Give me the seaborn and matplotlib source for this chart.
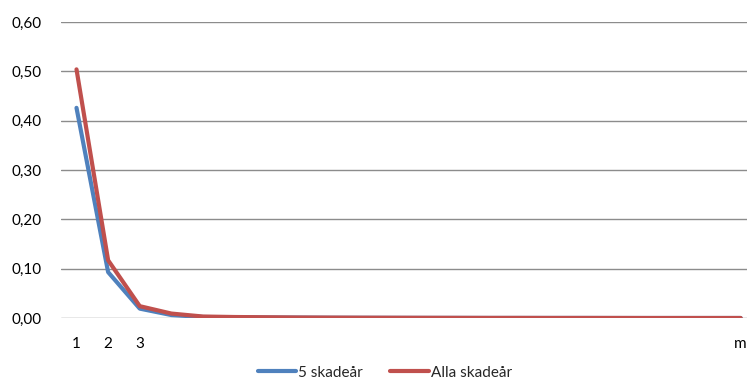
import matplotlib
matplotlib.use("Agg")
import matplotlib.pyplot as plt
import matplotlib.ticker as mticker
import numpy as np
import pandas as pd
import seaborn as sns

# Category labels along the x axis (only a few are printed)
tick_labels = ["1", "2", "3"] + [""] * 18 + ["m"]

# Share per development period
five_years = [0.426, 0.093, 0.019, 0.006, 0.002, 0.0015, 0.001, 0.0008, 0.0005, 0.0004,
              0.0003, 0.0002, 0.0002, 0.0001, 0.0001, 0.0001, 0.0001, 0.0, 0.0, 0.0, 0.0, 0.0]
all_years = [0.504, 0.117, 0.024, 0.009, 0.003, 0.002, 0.0015, 0.001, 0.0008, 0.0006,
             0.0005, 0.0004, 0.0003, 0.0002, 0.0002, 0.0001, 0.0001, 0.0001, 0.0, 0.0, 0.0, 0.0]

series_names = ["5 skadeår", "Alla skadeår"]
colors = ["#4F81BD", "#C0504D"]

pos = np.arange(len(tick_labels))
df = pd.concat([
    pd.DataFrame({"pos": pos, "value": five_years, "serie": series_names[0]}),
    pd.DataFrame({"pos": pos, "value": all_years, "serie": series_names[1]}),
])

sns.set_theme(style="white")
plt.rcParams["font.family"] = ["Lato", "DejaVu Sans"]

fig = plt.figure(figsize=(7.47, 3.89), dpi=100)
ax = fig.add_axes([61 / 747, 1 - 318 / 389, (747 - 61) / 747, (318 - 22) / 389])

sns.lineplot(data=df, x="pos", y="value", hue="serie", palette=colors,
             linewidth=3.0, ax=ax, legend=True)

ax.set_ylim(0, 0.6)
ax.set_xlim(-0.49, len(tick_labels) - 1 + 0.2)
ax.set_yticks(np.arange(0, 0.61, 0.1))
ax.yaxis.set_major_formatter(mticker.FuncFormatter(lambda v, p: f"{v:.2f}".replace(".", ",")))
ax.set_xticks(pos)
ax.set_xticklabels(tick_labels)
ax.grid(axis="y", color="#8C8C8C", linewidth=1.0)
ax.set_axisbelow(True)
for s in ax.spines.values():
    s.set_visible(False)
ax.tick_params(axis="both", length=0, labelsize=11, colors="#000000")
ax.tick_params(axis="x", pad=14)
ax.tick_params(axis="y", pad=14)
ax.set_xlabel("")
ax.set_ylabel("")

handles, labels = ax.get_legend_handles_labels()
ax.legend(handles, labels, loc="center", bbox_to_anchor=(0.472, -0.185),
          ncol=2, frameon=False, fontsize=11, handlelength=2.5, handletextpad=0.15,
          columnspacing=1.8)

fig.savefig("out.png", dpi=100)
